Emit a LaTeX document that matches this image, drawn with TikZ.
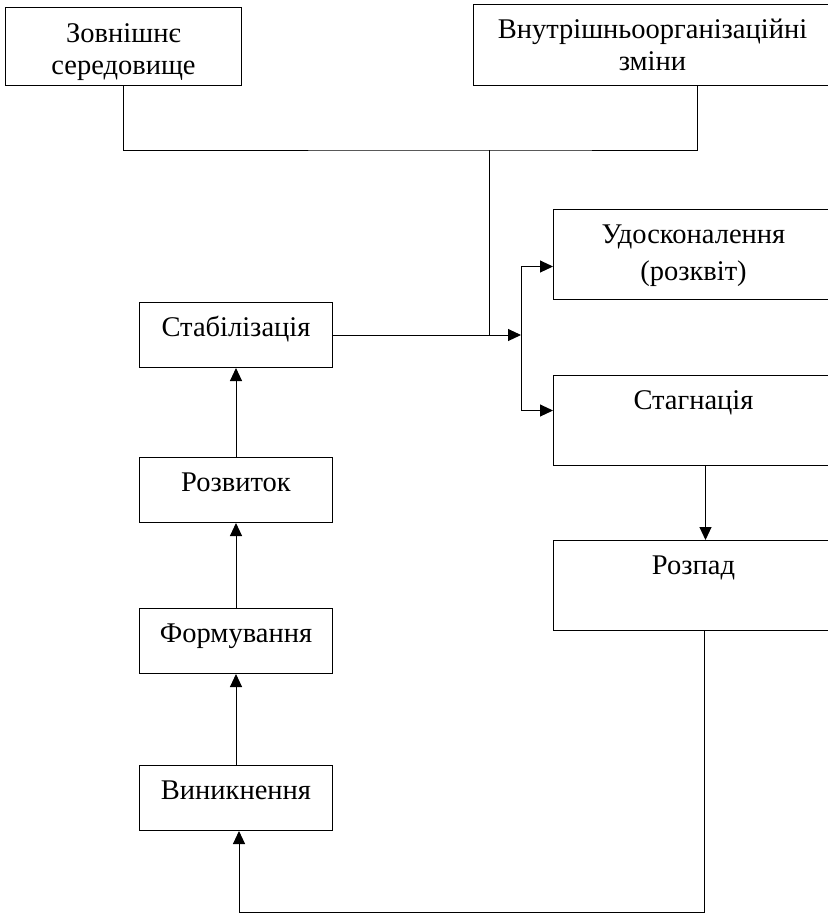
\documentclass[tikz,border=0pt]{standalone}
\usepackage{fontspec}
\setmainfont{Liberation Serif}
\usetikzlibrary{arrows.meta}

\begin{document}
\begin{tikzpicture}[x=1pt, y=-1pt, line width=1pt,
  every node/.append style={font=\fontsize{28.5}{32}\selectfont},
  box/.style={draw, rectangle, inner sep=0pt, text height=34pt, align=center, anchor=north west},
  lbox/.style={box, minimum width=193pt, text depth=31pt},
  rbox/.style={box, minimum width=280pt, text depth=56pt},
  arr/.style={-{Triangle[length=13pt, width=12pt]}}]
  \useasboundingbox (0,0) rectangle (828,914);
  % чинники
  \node[box, minimum width=236pt, text height=67pt, text depth=11pt] (zovn) at (5,7) {Зовнішнє\\середовище};
  \node[box, minimum width=358pt, text height=66pt, text depth=15pt] (vnutr) at (473,4) {Внутрішньоорганізаційні\\зміни};
  % етапи
  \node[lbox] (stab) at (139,302) {Стабілізація};
  \node[lbox] (rozv) at (139,457) {Розвиток};
  \node[lbox] (form) at (139,608) {Формування};
  \node[lbox] (vynyk) at (139,765) {Виникнення};
  \node[rbox, text height=71pt, text depth=19pt] (udos) at (553,209) {Удосконалення\\[5pt](розквіт)};
  \node[rbox] (stag) at (553,375) {Стагнація};
  \node[rbox] (rozp) at (553,540) {Розпад};
  % зв'язки
  \coordinate (joint) at (489,150);
  \coordinate (fork) at (stab.east -| 521,0);
  \coordinate (bottom) at (239,912);
  \draw (zovn.south) |- (joint) -| (vnutr.south -| 697,0);
  \draw (joint) -- (joint |- stab.east);
  \draw[arr] (stab.east) -- (fork);
  \draw[arr] (fork) |- ([yshift=-12pt]udos.west);
  \draw[arr] (fork) |- ([yshift=10pt]stag.west);
  \draw[arr] ([xshift=12pt]stag.south) -- ([xshift=12pt]rozp.north);
  \draw[arr] ([xshift=11pt]rozp.south) |- (bottom) -- (bottom |- vynyk.south);
  \draw[arr] (vynyk.north) -- (form.south);
  \draw[arr] (form.north) -- (rozv.south);
  \draw[arr] (rozv.north) -- (stab.south);
\end{tikzpicture}
\end{document}
